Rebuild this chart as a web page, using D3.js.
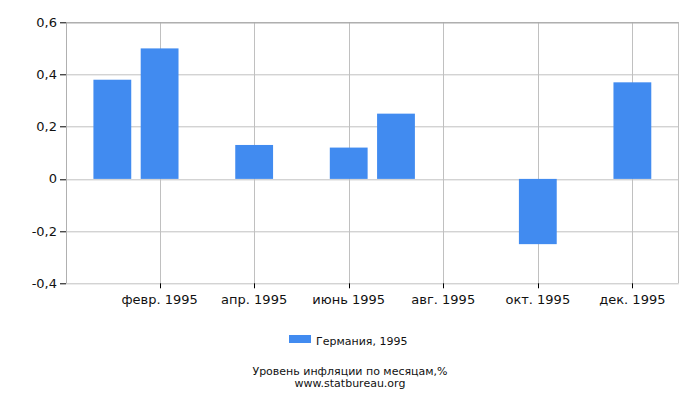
<!DOCTYPE html>
<html>
<head>
<meta charset="utf-8">
<script src="https://cdn.jsdelivr.net/npm/d3@7"></script>
<style>
  body { margin: 0; background: #fff; }
  text { font-family: "DejaVu Sans", sans-serif; fill: #111; }
</style>
</head>
<body>
<svg id="chart" width="700" height="400"></svg>
<script>
// Chart data
const months = ['янв. 1995', 'февр. 1995', 'март 1995', 'апр. 1995', 'май 1995', 'июнь 1995',
    'июль 1995', 'авг. 1995', 'сент. 1995', 'окт. 1995', 'нояб. 1995', 'дек. 1995'];
const inflation = [0.38, 0.5, 0, 0.13, 0, 0.12, 0.25, 0, 0, -0.25, 0, 0.37];
const labelledMonths = ['февр. 1995', 'апр. 1995', 'июнь 1995', 'авг. 1995', 'окт. 1995', 'дек. 1995'];
const yTicks = [-0.4, -0.2, 0, 0.2, 0.4, 0.6];
const seriesName = 'Германия, 1995';
const chartTitle = 'Уровень инфляции по месяцам,%';
const sourceUrl = 'www.statbureau.org';

const margin = {top: 22.3, right: 21.3, bottom: 116.7, left: 66};
const width = 700 - margin.left - margin.right;
const height = 400 - margin.top - margin.bottom;

const svg = d3.select('#chart');
const chart = svg.append('g')
    .attr('transform', `translate(${margin.left},${margin.top})`);

const xScale = d3.scaleBand()
    .domain(months)
    .range([0, width])
    .paddingInner(0.2)
    .paddingOuter(0.58);

const yScale = d3.scaleLinear()
    .domain([-0.4, 0.6])
    .range([height, 0]);

const fmt = d => d === 0 ? '0' : d3.format('.1f')(d).replace('.', ',').replace('−', '-');
const xMid = d => Math.round(xScale(d) + xScale.bandwidth() / 2) + 0.5;

// Horizontal grid
chart.append('g')
    .selectAll('line')
    .data(yTicks)
    .join('line')
    .attr('x1', 0)
    .attr('x2', width)
    .attr('y1', d => Math.round(yScale(d)) + 0.5)
    .attr('y2', d => Math.round(yScale(d)) + 0.5)
    .attr('stroke', '#c0c0c0');

// Vertical grid at labelled months
chart.append('g')
    .selectAll('line')
    .data(labelledMonths)
    .join('line')
    .attr('x1', xMid)
    .attr('x2', xMid)
    .attr('y1', 0)
    .attr('y2', height)
    .attr('stroke', '#c0c0c0');

// Plot frame (left, right, top)
chart.append('line')
    .attr('x1', 0.5).attr('x2', 0.5)
    .attr('y1', 0).attr('y2', height)
    .attr('stroke', '#b0b0b0');
chart.append('line')
    .attr('x1', Math.round(width) - 0.5).attr('x2', Math.round(width) - 0.5)
    .attr('y1', 0).attr('y2', height)
    .attr('stroke', '#c0c0c0');
chart.append('line')
    .attr('x1', 0).attr('x2', width)
    .attr('y1', 0.5).attr('y2', 0.5)
    .attr('stroke', '#a0a0a0');

// Bars
chart.selectAll('.bar')
    .data(months.map((m, i) => ({month: m, value: inflation[i]})).filter(d => d.value !== 0))
    .join('rect')
    .attr('class', 'bar')
    .attr('x', d => xScale(d.month))
    .attr('width', xScale.bandwidth())
    .attr('y', d => yScale(Math.max(0, d.value)))
    .attr('height', d => Math.abs(yScale(d.value) - yScale(0)))
    .attr('fill', '#418bf0');

// Y axis ticks + labels
const yAxisG = chart.append('g');
yAxisG.selectAll('line')
    .data(yTicks)
    .join('line')
    .attr('x1', -6).attr('x2', 0)
    .attr('y1', d => Math.round(yScale(d)) + 0.5)
    .attr('y2', d => Math.round(yScale(d)) + 0.5)
    .attr('stroke', '#000');
yAxisG.selectAll('text')
    .data(yTicks)
    .join('text')
    .attr('x', -9)
    .attr('y', d => yScale(d) + 4.5)
    .attr('text-anchor', 'end')
    .attr('font-size', 13)
    .text(fmt);

// X axis ticks + labels
const xAxisG = chart.append('g').attr('transform', `translate(0,${height})`);
xAxisG.selectAll('line')
    .data(labelledMonths)
    .join('line')
    .attr('x1', xMid)
    .attr('x2', xMid)
    .attr('y1', 0).attr('y2', 5)
    .attr('stroke', '#000');
xAxisG.selectAll('text')
    .data(labelledMonths)
    .join('text')
    .attr('x', d => xScale(d) + xScale.bandwidth() / 2)
    .attr('y', 21)
    .attr('text-anchor', 'middle')
    .attr('font-size', 13)
    .text(d => d);

// Legend
svg.append('rect')
    .attr('x', 289).attr('y', 335)
    .attr('width', 22).attr('height', 8)
    .attr('fill', '#418bf0');
svg.append('text')
    .attr('x', 316).attr('y', 345)
    .attr('font-size', 11)
    .text(seriesName);

// Title and source
svg.append('text')
    .attr('x', 350).attr('y', 374.5)
    .attr('text-anchor', 'middle')
    .attr('font-size', 11)
    .text(chartTitle);
svg.append('text')
    .attr('x', 350).attr('y', 387)
    .attr('text-anchor', 'middle')
    .attr('font-size', 11)
    .text(sourceUrl);
</script>
</body>
</html>
